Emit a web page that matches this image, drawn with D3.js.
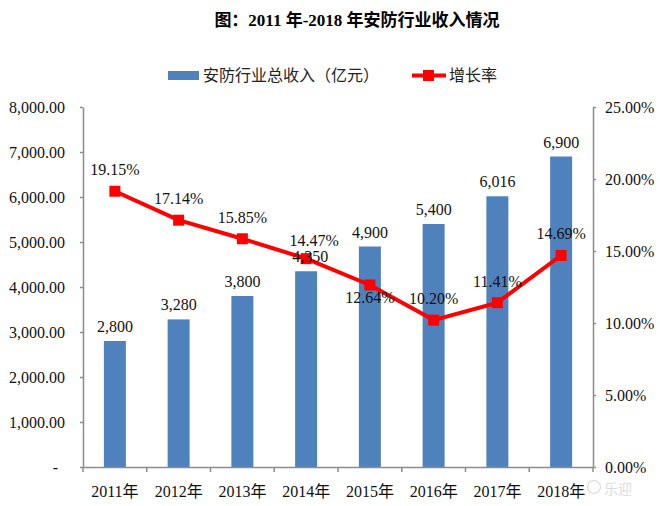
<!DOCTYPE html>
<html><head><meta charset="utf-8">
<script src="https://cdn.jsdelivr.net/npm/d3@7/dist/d3.min.js"></script>
<style>
html,body{margin:0;padding:0;background:#fff;}
svg{display:block;font-family:"Liberation Serif","Times New Roman","Noto Sans CJK SC",serif;}
</style></head>
<body><svg id="c" width="660" height="506"></svg>
<script>
const years = ["2011年","2012年","2013年","2014年","2015年","2016年","2017年","2018年"];
const revenue = [2800, 3280, 3800, 4350, 4900, 5400, 6016, 6900];
const growth = [0.1915, 0.1714, 0.1585, 0.1447, 0.1264, 0.1020, 0.1141, 0.1469];
const revenueLabels = ["2,800","3,280","3,800","4,350","4,900","5,400","6,016","6,900"];
const growthLabels = ["19.15%","17.14%","15.85%","14.47%","12.64%","10.20%","11.41%","14.69%"];
const leftTicks = [0,1000,2000,3000,4000,5000,6000,7000,8000];
const rightTicks = [0,0.05,0.10,0.15,0.20,0.25];
const title = "图：2011 年-2018 年安防行业收入情况";
const seriesNames = ["安防行业总收入（亿元）","增长率"];

const svg = d3.select("#c");
const L = 83, R = 593, T = 107, B = 467;
const barColor = "#4F81BD", lineColor = "#FF0000", axisColor = "#8c8c8c";

const x = d3.scaleBand().domain(years).range([L, R]).paddingInner(0.655).paddingOuter(0.3275);
const yL = d3.scaleLinear().domain([0, 8000]).range([B, T]);
const yR = d3.scaleLinear().domain([0, 0.25]).range([B, T]);
const bw = x.bandwidth(), step = x.step();
const cx = d => x(d) + bw / 2;

// title
svg.append("text").attr("x", 357).attr("y", 26).attr("text-anchor", "middle")
  .attr("font-size", 17).attr("font-weight", "bold").attr("fill", "#000").text(title);

// legend
svg.append("rect").attr("x", 168).attr("y", 71).attr("width", 31).attr("height", 9).attr("fill", barColor);
svg.append("text").attr("x", 203).attr("y", 81).attr("font-size", 16).attr("fill", "#222").text(seriesNames[0]);
svg.append("line").attr("x1", 412).attr("x2", 446).attr("y1", 75.5).attr("y2", 75.5)
  .attr("stroke", lineColor).attr("stroke-width", 4);
svg.append("rect").attr("x", 423).attr("y", 70).attr("width", 11).attr("height", 11).attr("fill", lineColor);
svg.append("text").attr("x", 449).attr("y", 81).attr("font-size", 16).attr("fill", "#222").text(seriesNames[1]);

// bars
svg.append("g").selectAll("rect").data(years).join("rect")
  .attr("x", d => x(d)).attr("width", bw)
  .attr("y", (d, i) => yL(revenue[i])).attr("height", (d, i) => B - yL(revenue[i]))
  .attr("fill", barColor);

// axes
const axL = svg.append("g").attr("transform", `translate(${L},0)`)
  .call(d3.axisLeft(yL).tickValues(leftTicks).tickSize(3).tickSizeOuter(0).tickPadding(15)
    .tickFormat(d => d === 0 ? "-" : d3.format(",.2f")(d)));
axL.selectAll("text").filter(d => d === 0).attr("dx", -7);
const axR = svg.append("g").attr("transform", `translate(${R},0)`)
  .call(d3.axisRight(yR).tickValues(rightTicks).tickSize(3).tickSizeOuter(0).tickPadding(9)
    .tickFormat(d3.format(".2%")));
const axB = svg.append("g").attr("transform", `translate(0,${B})`)
  .call(d3.axisBottom(x).tickSize(0).tickSizeOuter(0).tickPadding(19));
const bounds = years.map(d => cx(d) - step / 2).concat([cx(years[years.length - 1]) + step / 2]);
axB.selectAll("line.bt").data(bounds).join("line").attr("class", "bt")
  .attr("x1", d => d).attr("x2", d => d).attr("y1", 0).attr("y2", 5);
[axL, axR, axB].forEach(a => {
  a.selectAll("path,line").attr("stroke", axisColor).attr("stroke-width", 1.5);
  a.selectAll("text").attr("font-size", 16).attr("fill", "#111")
    .attr("font-family", "'Liberation Serif','Times New Roman','Noto Sans CJK SC',serif");
});

// growth line
const line = d3.line().x((d, i) => cx(years[i])).y(d => yR(d));
svg.append("path").datum(growth).attr("d", line).attr("fill", "none")
  .attr("stroke", lineColor).attr("stroke-width", 4).attr("stroke-linejoin", "round");
svg.append("g").selectAll("rect").data(growth).join("rect")
  .attr("x", (d, i) => cx(years[i]) - 5.5).attr("y", d => yR(d) - 5.5)
  .attr("width", 11).attr("height", 11).attr("fill", lineColor);

// bar labels
svg.append("g").selectAll("text").data(revenue).join("text")
  .attr("x", (d, i) => cx(years[i]) + (i === 3 ? 4 : 0)).attr("y", d => yL(d) - 9)
  .attr("text-anchor", "middle").attr("font-size", 16).attr("fill", "#111")
  .text((d, i) => revenueLabels[i]);

// growth labels
const below = [false, false, false, false, true, false, false, false];
svg.append("g").selectAll("text").data(growth).join("text")
  .attr("x", (d, i) => cx(years[i]) + (i === 3 ? 8 : 0))
  .attr("y", (d, i) => below[i] ? yR(d) + 18 : yR(d) - (i === 3 ? 13 : 16))
  .attr("text-anchor", "middle").attr("font-size", 16).attr("fill", "#111")
  .text((d, i) => growthLabels[i]);

// watermark
const wm = svg.append("g").attr("opacity", 0.35);
wm.append("circle").attr("cx", 594).attr("cy", 487).attr("r", 6.5).attr("fill", "none").attr("stroke", "#999").attr("stroke-width", 1.2);
wm.append("text").attr("x", 604).attr("y", 494).attr("font-size", 14).attr("fill", "#999")
  .attr("font-family", "'Noto Sans CJK SC',sans-serif").text("乐迎");
</script></body></html>
